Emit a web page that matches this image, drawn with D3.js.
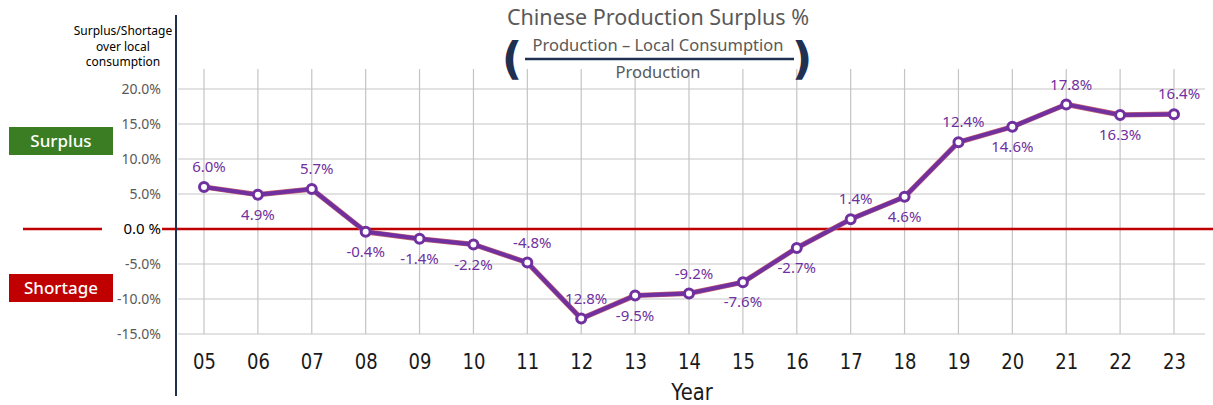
<!DOCTYPE html>
<html>
<head>
<meta charset="utf-8">
<script src="https://cdn.jsdelivr.net/npm/d3@7"></script>
<style>
  html, body { margin: 0; padding: 0; background: #fff; }
  svg { display: block; }
</style>
</head>
<body>
<svg id="chart" width="1213" height="405"></svg>
<script>
// Chinese production surplus by year (% of production)
const years = ["05","06","07","08","09","10","11","12","13","14","15","16","17","18","19","20","21","22","23"];
const surplus = [6.0, 4.9, 5.7, -0.4, -1.4, -2.2, -4.8, -12.8, -9.5, -9.2, -7.6, -2.7, 1.4, 4.6, 12.4, 14.6, 17.8, 16.3, 16.4];
const pointLabels = ["6.0%","4.9%","5.7%","-0.4%","-1.4%","-2.2%","-4.8%","12.8%","-9.5%","-9.2%","-7.6%","-2.7%","1.4%","4.6%","12.4%","14.6%","17.8%","16.3%","16.4%"];
// label placement: 1 = above the point, -1 = below
const labelSide = [1,-1,1,-1,-1,-1,1,1,-1,1,-1,-1,1,-1,1,-1,1,-1,1];
const yTicks = [20, 15, 10, 5, 0, -5, -10, -15];

const svg = d3.select("#chart");
const font = "'Noto Sans', 'Open Sans', sans-serif";
const axisFont = "'DejaVu Sans', sans-serif";

const x = d3.scalePoint().domain(years).range([204, 1174]);
const y = d3.scaleLinear().domain([-15, 20]).range([334, 89]);

// horizontal gridlines
svg.append("g").selectAll("line").data(yTicks.filter(d => d !== 0)).join("line")
  .attr("x1", 178).attr("x2", 1205)
  .attr("y1", d => y(d)).attr("y2", d => y(d))
  .attr("stroke", "#d9d9d9").attr("stroke-width", 1.5);

// vertical gridlines
svg.append("g").selectAll("line").data(years).join("line")
  .attr("x1", d => x(d)).attr("x2", d => x(d))
  .attr("y1", 69).attr("y2", y(-15))
  .attr("stroke", "#c4c4c4").attr("stroke-width", 1.2);

// y tick labels
const yAxis = d3.axisLeft(y).tickValues(yTicks).tickSize(0).tickPadding(0)
  .tickFormat(d => d === 0 ? "0.0 %" : d.toFixed(1) + "%");
const yg = svg.append("g").attr("transform", "translate(161,0)").call(yAxis);
yg.select(".domain").remove();
yg.selectAll("text")
  .attr("font-family", font)
  .attr("fill", d => d === 0 ? "#000" : "#595959")
  .attr("font-size", d => d === 0 ? 15 : 14);

// zero line
svg.append("line").attr("x1", 162).attr("x2", 1213)
  .attr("y1", y(0)).attr("y2", y(0))
  .attr("stroke", "#c00000").attr("stroke-width", 2.5);
svg.append("line").attr("x1", 23).attr("x2", 102)
  .attr("y1", y(0)).attr("y2", y(0))
  .attr("stroke", "#c00000").attr("stroke-width", 2.5);

// vertical axis line
svg.append("line").attr("x1", 176).attr("x2", 176)
  .attr("y1", 15).attr("y2", 396)
  .attr("stroke", "#1f3050").attr("stroke-width", 2);

// x axis tick labels (horizontally compressed glyphs)
const xAxis = d3.axisBottom(x).tickSize(0).tickPadding(0);
const xg = svg.append("g").attr("transform", "translate(0,353)").call(xAxis);
xg.select(".domain").remove();
xg.selectAll("text")
  .attr("font-family", axisFont)
  .attr("font-size", 22).attr("fill", "#1a1a1a")
  .attr("transform", "scale(0.82,1)");

svg.append("text").attr("transform", "translate(692,400) scale(0.85,1)")
  .attr("text-anchor", "middle")
  .attr("font-family", axisFont)
  .attr("font-size", 23).attr("fill", "#1a1a1a").text("Year");

// series line
const line = d3.line().x((d, i) => x(years[i])).y(d => y(d));
svg.append("path").datum(surplus).attr("d", line)
  .attr("fill", "none").attr("stroke", "#c06070").attr("stroke-width", 5.2)
  .attr("stroke-linejoin", "round");
svg.append("path").datum(surplus).attr("d", line)
  .attr("fill", "none").attr("stroke", "#7030a0").attr("stroke-width", 4)
  .attr("stroke-linejoin", "round");

// markers
svg.append("g").selectAll("circle").data(surplus).join("circle")
  .attr("cx", (d, i) => x(years[i])).attr("cy", d => y(d)).attr("r", 4.5)
  .attr("fill", "#fff").attr("stroke", "#7030a0").attr("stroke-width", 3);

// value labels
svg.append("g").selectAll("text").data(surplus).join("text")
  .attr("x", (d, i) => x(years[i]) + (labelSide[i] > 0 ? 5 : 0))
  .attr("y", (d, i) => y(d) - labelSide[i] * 20)
  .attr("dy", "0.35em").attr("text-anchor", "middle")
  .attr("font-family", font).attr("font-size", 15).attr("fill", "#7030a0")
  .text((d, i) => pointLabels[i]);

// left-hand axis caption
const cap = svg.append("text").attr("text-anchor", "middle")
  .attr("font-family", font).attr("font-size", 12).attr("fill", "#000");
["Surplus/Shortage", "over local", "consumption"].forEach((t, i) => {
  cap.append("tspan").attr("x", 123).attr("y", 35 + i * 15.5).text(t);
});

// surplus / shortage tags
[["Surplus", "#3a7d22", 127], ["Shortage", "#c00000", 274]].forEach(([t, c, top]) => {
  svg.append("rect").attr("x", 9).attr("y", top).attr("width", 104).attr("height", 28).attr("fill", c);
  svg.append("text").attr("x", 61).attr("y", top + 14).attr("dy", "0.35em")
    .attr("text-anchor", "middle").attr("font-family", font).attr("font-size", 17)
    .attr("font-weight", 500).attr("fill", "#fff").text(t);
});

// title with formula
svg.append("text").attr("x", 658).attr("y", 25).attr("text-anchor", "middle")
  .attr("font-family", font).attr("font-size", 21.5).attr("fill", "#595959")
  .text("Chinese Production Surplus %");
svg.append("text").attr("x", 658).attr("y", 51).attr("text-anchor", "middle")
  .attr("font-family", font).attr("font-size", 16.5).attr("fill", "#595959")
  .text("Production – Local Consumption");
svg.append("line").attr("x1", 525).attr("x2", 794).attr("y1", 59).attr("y2", 59)
  .attr("stroke", "#1f3050").attr("stroke-width", 2.5);
svg.append("text").attr("x", 658).attr("y", 78).attr("text-anchor", "middle")
  .attr("font-family", font).attr("font-size", 16.5).attr("fill", "#595959")
  .text("Production");
[["(", 512], [")", 802]].forEach(([t, px]) => {
  svg.append("text").attr("x", px).attr("y", 74).attr("text-anchor", "middle")
    .attr("font-family", axisFont).attr("font-size", 45).attr("font-weight", "bold")
    .attr("fill", "#1f3050").text(t);
});
</script>
</body>
</html>
